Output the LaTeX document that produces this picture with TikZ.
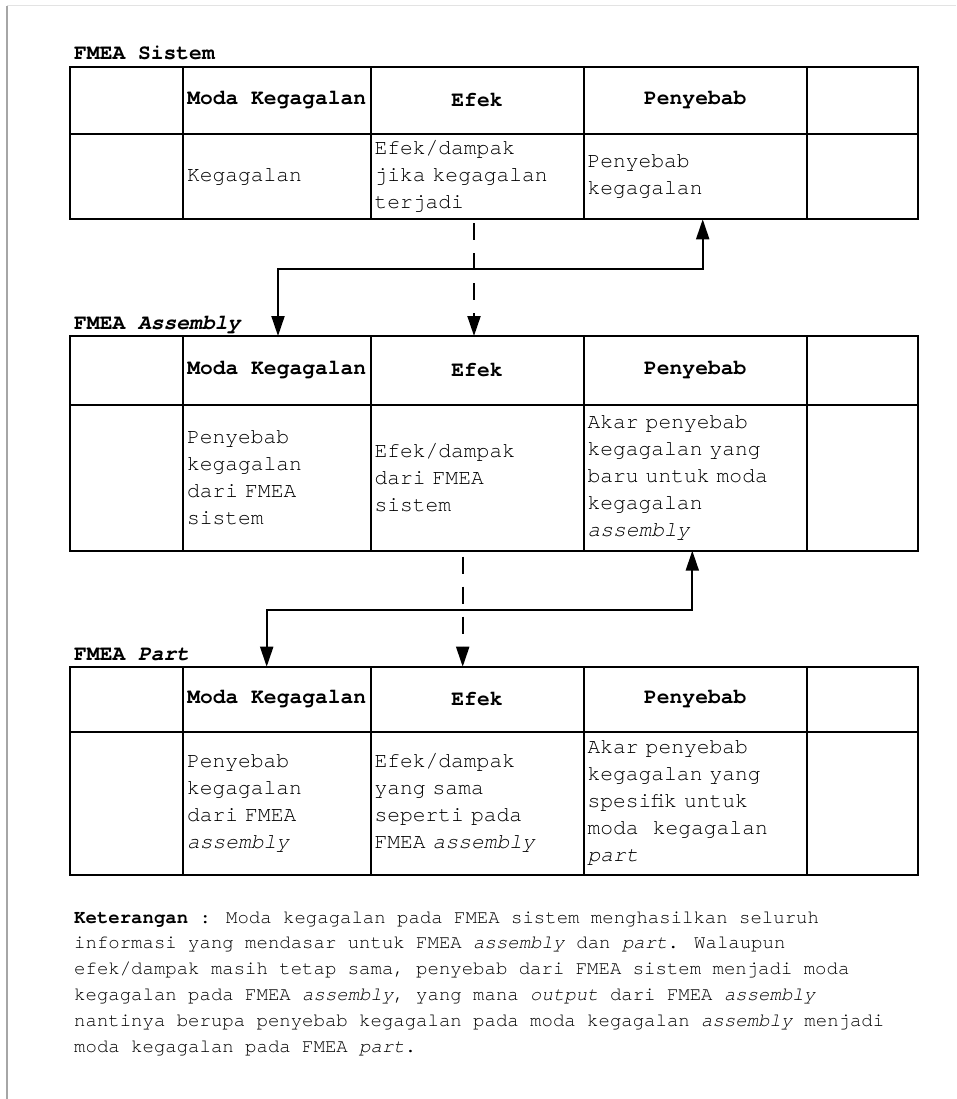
\documentclass[tikz,border=0pt]{standalone}
\usepackage{fontspec}
\setmainfont{texgyrecursor}[
  Extension=.otf,
  UprightFont=*-regular,
  BoldFont=*-bold,
  ItalicFont=*-italic,
  BoldItalicFont=*-bolditalic]
\usetikzlibrary{arrows.meta}

\newcommand{\tablefont}{\fontsize{21.3}{27}\selectfont}
\newcommand{\notefont}{\fontsize{19}{25.8}\selectfont}

\tikzset{
  cellbox/.style={draw, line width=2pt, anchor=north west, inner ysep=0pt,
    inner xsep=4pt, outer sep=0pt, font=\tablefont},
  headcell/.style={cellbox, align=center, font=\tablefont\bfseries},
  bodycell/.style={cellbox, align=left},
  tabletitle/.style={anchor=base west, inner sep=0pt, font=\tablefont\bfseries},
  link/.style={line width=2pt, arrows={Triangle[length=20pt,width=13pt]-Triangle[length=20pt,width=13pt]}},
  flowdash/.style={line width=2pt, dash pattern=on 17pt off 13pt,
    arrows={-Triangle[length=20pt,width=13pt]}},
}

% One FMEA table: #1 name prefix, #2 top, #3 header bottom, #4 bottom,
% #5 #6 #7 body texts of the Moda / Efek / Penyebab columns
\newcommand{\fmeatable}[7]{%
  \pgfmathsetmacro{\hrow}{#3-#2}%
  \pgfmathsetmacro{\brow}{#4-#3}%
  \node[headcell, minimum width=113, minimum height=\hrow] (#1-h0) at (70,#2) {};
  \node[headcell, minimum width=187.5, minimum height=\hrow] (#1-h1) at (183,#2) {Moda Kegagalan};
  \node[headcell, minimum width=213, minimum height=\hrow] (#1-h2) at (370.5,#2) {Efek};
  \node[headcell, minimum width=223.5, minimum height=\hrow] (#1-h3) at (583.5,#2) {Penyebab};
  \node[headcell, minimum width=111, minimum height=\hrow] (#1-h4) at (807,#2) {};
  \node[bodycell, minimum width=113, minimum height=\brow] (#1-b0) at (70,#3) {};
  \node[bodycell, text width=179.5, minimum height=\brow] (#1-b1) at (183,#3) {#5};
  \node[bodycell, text width=205, minimum height=\brow] (#1-b2) at (370.5,#3) {#6};
  \node[bodycell, text width=215.5, minimum height=\brow] (#1-b3) at (583.5,#3) {#7};
  \node[bodycell, minimum width=111, minimum height=\brow] (#1-b4) at (807,#3) {};
}

\begin{document}
\begin{tikzpicture}[x=1pt, y=-1pt]
\useasboundingbox (0,0) rectangle (956,1099);

% page edges
\draw[gray!22, line width=1pt] (7,6) -- (956,6);
\draw[gray!70, line width=1.5pt] (7,6) -- (7,1099);

% system level
\node[tabletitle] (s-title) at (74,60) {FMEA Sistem};
\fmeatable{s}{66.7}{134}{219.3}
  {Kegagalan}
  {Efek/dampak\\jika kegagalan\\terjadi}
  {Penyebab\\kegagalan}

% assembly level
\node[tabletitle] (a-title) at (74,329) {FMEA \textit{Assembly}};
\fmeatable{a}{336}{405}{550.7}
  {Penyebab\\kegagalan\\dari FMEA\\sistem}
  {Efek/dampak\\dari FMEA\\sistem}
  {Akar penyebab\\kegagalan yang\\baru untuk moda\\kegagalan\\\textit{assembly}}

% part level
\node[tabletitle] (p-title) at (74,660) {FMEA \textit{Part}};
\fmeatable{p}{666.7}{731.7}{875}
  {Penyebab\\kegagalan\\dari FMEA\\\textit{assembly}}
  {Efek/dampak\\yang sama\\seperti pada\\FMEA \textit{assembly}}
  {Akar penyebab\\kegagalan yang\\spesifik untuk\\moda\ \ kegagalan\\\textit{part}}

% system -> assembly
\coordinate (k1) at (702.7,269);
\coordinate (k2) at (278,269);
\draw[link] (a-h1.north -| k2) -- (k2) -- (k1) -- (s-b3.south -| k1);
\coordinate (d1) at (474,269);
\path (s-b2.south -| d1) ++(0,4) coordinate (d1s);
\draw[flowdash] (d1s) -- (a-h2.north -| d1);

% assembly -> part
\coordinate (k3) at (692.3,610);
\coordinate (k4) at (266.7,610);
\draw[link] (p-h1.north -| k4) -- (k4) -- (k3) -- (a-b3.south -| k3);
\coordinate (d2) at (462.7,610);
\path (a-b2.south -| d2) ++(0,6) coordinate (d2s);
\draw[flowdash] (d2s) -- (p-h2.north -| d2);

% explanatory note (anchored on the baseline of its last line)
\node[anchor=base west, inner sep=0pt, align=left, font=\notefont] (note) at (74,1052)
  {\textbf{Keterangan} : Moda kegagalan pada FMEA sistem menghasilkan seluruh\\
   informasi yang mendasar untuk FMEA \textit{assembly} dan \textit{part}. Walaupun\\
   efek/dampak masih tetap sama, penyebab dari FMEA sistem menjadi moda\\
   kegagalan pada FMEA \textit{assembly}, yang mana \textit{output} dari FMEA \textit{assembly}\\
   nantinya berupa penyebab kegagalan pada moda kegagalan \textit{assembly} menjadi\\
   moda kegagalan pada FMEA \textit{part}.};
\end{tikzpicture}
\end{document}
